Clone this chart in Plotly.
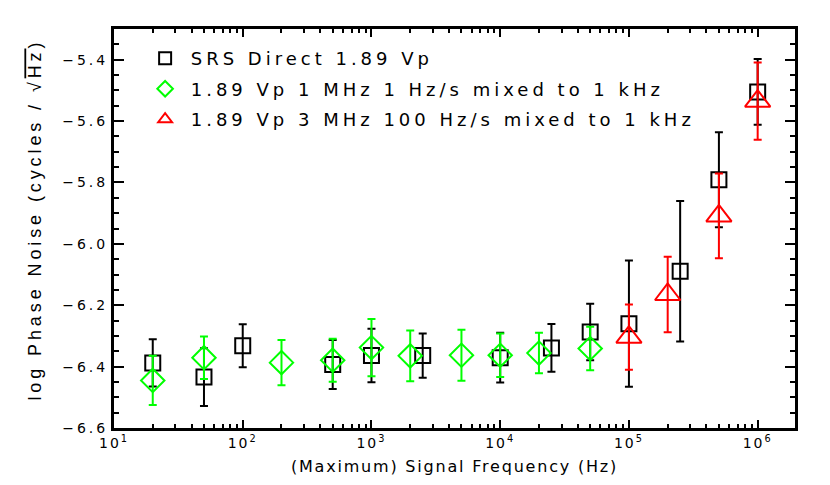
import plotly.graph_objects as go

# -- SRS Direct 1.89 Vp
srs_freq = [20, 50, 100, 500, 1000, 2500, 10000, 25000, 50000, 100000, 250000, 500000, 1000000]
srs_noise = [-6.388, -6.434, -6.332, -6.393, -6.364, -6.364, -6.371, -6.339, -6.287, -6.260, -6.089, -5.791, -5.505]
srs_err = [0.077, 0.094, 0.070, 0.080, 0.087, 0.072, 0.081, 0.078, 0.092, 0.206, 0.229, 0.155, 0.107]

# -- 1.89 Vp 1 MHz 1 Hz/s mixed to 1 kHz
mix1_freq = [20, 50, 200, 500, 1000, 2000, 5000, 10000, 20000, 50000]
mix1_noise = [-6.445, -6.371, -6.387, -6.379, -6.338, -6.365, -6.363, -6.363, -6.356, -6.341]
mix1_err = [0.080, 0.069, 0.074, 0.070, 0.093, 0.083, 0.083, 0.071, 0.066, 0.071]

# -- 1.89 Vp 3 MHz 100 Hz/s mixed to 1 kHz
mix3_freq = [100000, 200000, 500000, 1000000]
mix3_noise = [-6.304, -6.165, -5.909, -5.535]
mix3_err = [0.106, 0.123, 0.138, 0.126]

series_names = [
    "SRS Direct 1.89 Vp",
    "1.89 Vp 1 MHz 1 Hz/s mixed to 1 kHz",
    "1.89 Vp 3 MHz 100 Hz/s mixed to 1 kHz",
]

x_tickvals = [10, 100, 1000, 10000, 100000, 1000000]
x_ticktext = ["10<sup>1</sup>", "10<sup>2</sup>", "10<sup>3</sup>", "10<sup>4</sup>", "10<sup>5</sup>", "10<sup>6</sup>"]
y_tickvals = [-6.6, -6.4, -6.2, -6.0, -5.8, -5.6, -5.4]
y_ticktext = ["\u22126.6", "\u22126.4", "\u22126.2", "\u22126.0", "\u22125.8", "\u22125.6", "\u22125.4"]

x_title = "(Maximum) Signal Frequency (Hz)"
y_title = "log Phase Noise (cycles / \u221a<span style='text-decoration:overline'>Hz</span>)"

HERSHEY = "DejaVu Sans"


def spaced(text, px):
    return f"<span style='letter-spacing:{px}px'>{text}</span>"


x_minor = [m * 10 ** d for d in range(1, 7) for m in range(2, 10) if m * 10 ** d < 2e6]

fig = go.Figure()
styles = [
    (srs_freq, srs_noise, srs_err, "square-open", 15, "black"),
    (mix1_freq, mix1_noise, mix1_err, "diamond-open", 18, "#00ff00"),
    (mix3_freq, mix3_noise, mix3_err, "triangle-up-open", 22, "#ff0000"),
]
for i, (fx, fy, fe, sym, size, color) in enumerate(styles):
    fig.add_trace(
        go.Scatter(
            x=fx,
            y=fy,
            mode="markers",
            name=spaced("\u2009", 2) + spaced(series_names[i], 4),
            legendgroup=f"g{i}",
            marker=dict(symbol=sym, size=size, color=color, line=dict(width=2, color=color)),
            error_y=dict(type="data", array=fe, visible=True, color=color, thickness=2, width=4),
        )
    )

axis_common = dict(
    showline=True,
    linecolor="black",
    linewidth=3,
    mirror="ticks",
    ticks="inside",
    tickcolor="black",
    tickwidth=2,
    showgrid=False,
    zeroline=False,
    tickfont=dict(family=HERSHEY, size=14, color="black"),
)

fig.update_xaxes(
    type="log",
    range=[1, 6.29],
    tickmode="array",
    tickvals=x_tickvals,
    ticktext=[spaced(t, 2) for t in x_ticktext],
    ticklen=8,
    minor=dict(tickmode="array", tickvals=x_minor, ticks="inside", ticklen=4, tickwidth=2, tickcolor="black"),
    title=dict(text=spaced(x_title, 1.8), font=dict(family=HERSHEY, size=16, color="black"), standoff=12),
    **axis_common,
)
fig.update_yaxes(
    range=[-6.6, -5.3],
    tickmode="array",
    tickvals=y_tickvals,
    ticktext=[spaced(t, 3) for t in y_ticktext],
    ticklen=10,
    minor=dict(dtick=0.05, ticks="inside", ticklen=5, tickwidth=2, tickcolor="black"),
    title=dict(
        text=spaced("\u00a0\u00a0" + y_title, 3.9),
        font=dict(family="Liberation Sans", size=18, color="black"),
        standoff=16,
    ),
    **axis_common,
)

fig.update_layout(
    width=830,
    height=485,
    margin=dict(l=106, r=43, t=21, b=65, autoexpand=False),
    paper_bgcolor="white",
    plot_bgcolor="white",
    showlegend=True,
    legend=dict(
        x=0.0457,
        y=0.972,
        xanchor="left",
        yanchor="top",
        bgcolor="rgba(0,0,0,0)",
        font=dict(family=HERSHEY, size=18, color="black"),
        traceorder="grouped",
        tracegroupgap=4,
        itemsizing="constant",
    ),
)

fig.write_html("out.html")
